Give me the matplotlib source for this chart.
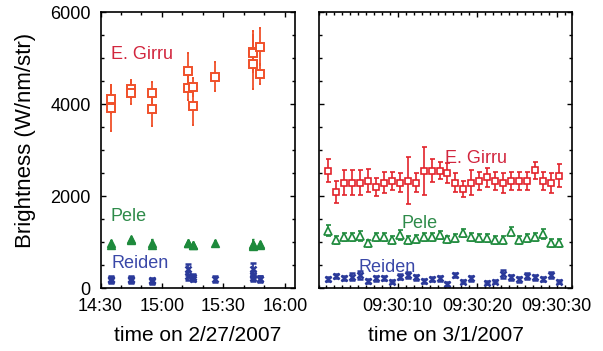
import numpy as np
import matplotlib.pyplot as plt
from matplotlib.ticker import MultipleLocator, FixedLocator, NullFormatter

plt.rcParams['font.family'] = ['Liberation Sans', 'DejaVu Sans']

# panel 1: 2/27/2007, one entry per observation
LEFT_TIME = ["14:35:00", "14:35:00", "14:44:55", "14:44:55", "14:55:00", "14:55:00",
             "15:12:55", "15:12:55", "15:15:00", "15:15:00", "15:25:55",
             "15:44:35", "15:44:35", "15:44:35", "15:48:00", "15:48:00"]
GIRRU_LEFT = [4122, 3926, 4333, 4239, 4239, 3891, 4724, 4348, 4383, 3963, 4600,
              5143, 5109, 4876, 5252, 4652]
GIRRU_LEFT_ERR = [300, 500, 200, 240, 240, 360, 385, 250, 200, 415, 310,
                  450, 400, 540, 400, 220]
PELE_LEFT = [990, 950, 1075, 1060, 995, 950, 990, 975, 950, 935, 990,
             960, 945, 920, 965, 950]
PELE_LEFT_ERR = [70, 60, 50, 50, 70, 60, 60, 50, 50, 50, 50, 110, 60, 60, 50, 50]
REIDEN_LEFT = [200, 170, 200, 175, 170, 150, 410, 270, 240, 210, 200,
               430, 300, 220, 210, 200]
REIDEN_LEFT_ERR = [60, 60, 60, 60, 60, 60, 120, 90, 70, 60, 70, 120, 80, 70, 60, 60]
LEFT_TICKS = ["14:30", "15:00", "15:30", "16:00"]

# panel 2: 3/1/2007, seconds after 09:30:00
RIGHT_SEC = [1.25, 2.25, 3.25, 4.25, 5.25, 6.25, 7.25, 8.25, 9.25, 10.25,
             11.25, 12.25, 13.25, 14.25, 15.25, 16.25, 17.25, 18.25, 19.25, 20.25,
             21.25, 22.25, 23.25, 24.25, 25.25, 26.25, 27.25, 28.25, 29.25, 30.25]
GIRRU_RIGHT = [2557, 2087, 2296, 2296, 2296, 2339, 2209, 2296, 2339, 2296,
               2339, 2296, 2557, 2557, 2557, 2507, 2296, 2160, 2296, 2339,
               2410, 2339, 2296, 2339, 2339, 2339, 2565, 2339, 2296, 2448]
GIRRU_RIGHT_ERR = [250, 240, 270, 270, 270, 250, 200, 230, 200, 200,
                   515, 200, 525, 250, 190, 210, 200, 180, 270, 200,
                   200, 200, 220, 200, 200, 200, 180, 200, 220, 250]
PELE_RIGHT = [1252, 1050, 1108, 1122, 1144, 978, 1122, 1108, 1050, 1159,
              1050, 1065, 1108, 1122, 1159, 1065, 1101, 1196, 1108, 1101,
              1101, 1050, 1050, 1231, 1050, 1101, 1108, 1174, 991, 991]
PELE_RIGHT_ERR = [120, 90, 90, 90, 110, 80, 90, 90, 80, 110,
                  90, 90, 90, 90, 90, 80, 90, 90, 90, 90,
                  90, 80, 80, 100, 90, 90, 90, 110, 90, 90]
REIDEN_RIGHT = [196, 267, 217, 252, 289, 166, 217, 217, 145, 252,
                289, 239, 166, 196, 217, 94, 289, 145, 217, np.nan,
                123, 145, 311, 239, 196, 267, 239, 196, 289, 145]
REIDEN_RIGHT_ERR = [40, 50, 40, 70, 80, 40, 50, 40, 40, 50,
                    70, 50, 40, 40, 50, 40, 50, 40, 50, 0,
                    40, 40, 80, 50, 50, 60, 50, 40, 70, 40]
RIGHT_TICKS = ["09:30:10", "09:30:20", "09:30:30"]


def to_min(s):
    parts = [float(v) for v in s.split(":")]
    if len(parts) == 2:
        parts.append(0.0)
    return parts[0] * 60 + parts[1] + parts[2] / 60


def to_sec(s):
    h, m, sec = [float(v) for v in s.split(":")]
    return (h - 9) * 3600 + (m - 30) * 60 + sec


C_SQ_LEFT = "#f0502a"
C_SQ_RIGHT = "#e3232b"
C_GREEN = "#1e8a3c"
C_BLUE = "#2b3a9a"
C_TXT_RED = "#d2263e"
C_TXT_GREEN = "#2e8b4a"
C_TXT_BLUE = "#3a48a8"


def style_axes(ax):
    for sp in ax.spines.values():
        sp.set_linewidth(1.2)
    ax.set_ylim(0, 6000)
    ax.yaxis.set_major_locator(MultipleLocator(2000))
    ax.yaxis.set_minor_locator(MultipleLocator(500))
    ax.tick_params(which="both", direction="in", top=True, right=True, width=1)
    ax.tick_params(which="major", length=3.6, labelsize=13)
    ax.tick_params(which="minor", length=2)
    ax.tick_params(axis="y", pad=7)
    ax.tick_params(axis="x", pad=7)


fig = plt.figure(figsize=(6.03, 3.51), dpi=100)
ax1 = fig.add_axes([0.1667, 0.1786, 0.3226, 0.7863])
ax2 = fig.add_axes([0.5282, 0.1786, 0.4212, 0.7863])

# left panel
lx = [to_min(t) for t in LEFT_TIME]
ax1.errorbar(lx, GIRRU_LEFT, yerr=GIRRU_LEFT_ERR, fmt="s", ms=5.2, mfc="white",
             mec=C_SQ_LEFT, mew=1.4, color=C_SQ_LEFT, elinewidth=1.3, capsize=1)
ax1.errorbar(lx, PELE_LEFT, yerr=PELE_LEFT_ERR, fmt="^", ms=6.2, mfc=C_GREEN,
             mec=C_GREEN, color=C_GREEN, elinewidth=1.3, capsize=1)
ax1.errorbar(lx, REIDEN_LEFT, yerr=REIDEN_LEFT_ERR, fmt="x", ms=5, mew=1.8,
             color=C_BLUE, elinewidth=1.3, capsize=2)
style_axes(ax1)
ax1.set_xlim(to_min("14:30"), to_min("16:05"))
ax1.xaxis.set_major_locator(FixedLocator([to_min(t) for t in LEFT_TICKS]))
ax1.set_xticklabels(LEFT_TICKS)
ax1.xaxis.set_minor_locator(MultipleLocator(10))

ax1.text(to_min("14:35:10"), 4990, "E. Girru", color=C_TXT_RED, fontsize=13, va="baseline")
ax1.text(to_min("14:35:00"), 1474, "Pele", color=C_TXT_GREEN, fontsize=13, va="baseline")
ax1.text(to_min("14:35:30"), 452, "Reiden", color=C_TXT_BLUE, fontsize=13, va="baseline")

ax1.set_ylabel("Brightness (W/nm/str)", fontsize=16, va="center")
ax1.yaxis.set_label_coords(-0.385, 0.534)
ax1.set_xlabel("time on 2/27/2007", fontsize=15, va="baseline")
ax1.xaxis.set_label_coords(0.5, -0.19)

# right panel
ax2.errorbar(RIGHT_SEC, GIRRU_RIGHT, yerr=GIRRU_RIGHT_ERR, fmt="s", ms=5, mfc="white",
             mec=C_SQ_RIGHT, mew=1.2, color=C_SQ_RIGHT, elinewidth=1.2, capsize=1.8)
ax2.errorbar(RIGHT_SEC, PELE_RIGHT, yerr=PELE_RIGHT_ERR, fmt="^", ms=5.5, mfc="white",
             mec=C_GREEN, mew=1.2, color=C_GREEN, elinewidth=1.2, capsize=1.8)
ax2.errorbar(RIGHT_SEC, REIDEN_RIGHT, yerr=REIDEN_RIGHT_ERR, fmt="x", ms=4.6, mew=1.8,
             color=C_BLUE, elinewidth=1.2, capsize=2)
style_axes(ax2)
ax2.set_xlim(0, 32)
ax2.xaxis.set_major_locator(FixedLocator([to_sec(t) for t in RIGHT_TICKS]))
ax2.set_xticklabels(RIGHT_TICKS)
ax2.xaxis.set_minor_locator(MultipleLocator(1))
ax2.yaxis.set_major_formatter(NullFormatter())

ax2.text(15.9, 2735, "E. Girru", color=C_TXT_RED, fontsize=13, va="baseline")
ax2.text(10.45, 1307, "Pele", color=C_TXT_GREEN, fontsize=13, va="baseline")
ax2.text(5.1, 350, "Reiden", color=C_TXT_BLUE, fontsize=13, va="baseline")

ax2.set_xlabel("time on 3/1/2007", fontsize=15, va="baseline")
ax2.xaxis.set_label_coords(0.5, -0.19)

fig.savefig("out.png", dpi=100)
